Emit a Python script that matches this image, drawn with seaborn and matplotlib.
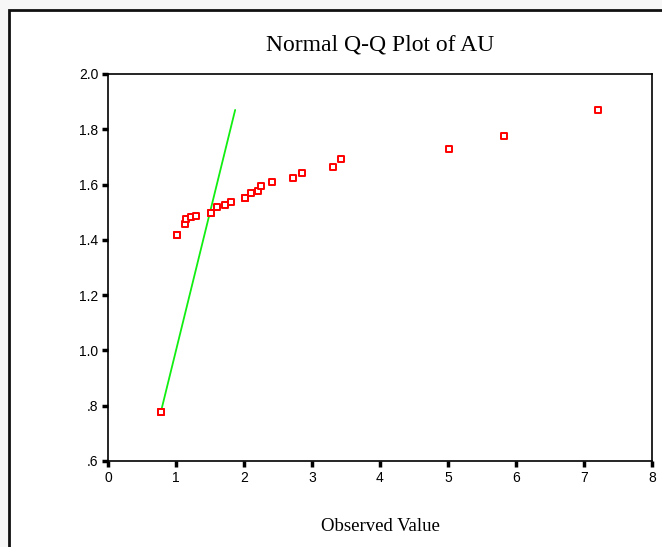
import matplotlib
matplotlib.use("Agg")
import matplotlib.pyplot as plt
import seaborn as sns
import pandas as pd
from matplotlib.patches import Rectangle

# ---- data ----
observed = [0.78, 0.78, 1.02, 1.02, 1.13, 1.15, 1.22, 1.29, 1.51, 1.51, 1.61, 1.72,
            1.81, 2.02, 2.02, 2.11, 2.21, 2.25, 2.41, 2.72, 2.86, 3.31, 3.42,
            5.01, 5.82, 7.21]
expected = [0.777, 0.777, 1.418, 1.418, 1.456, 1.474, 1.482, 1.487, 1.496, 1.496, 1.518, 1.527,
            1.537, 1.553, 1.553, 1.568, 1.578, 1.594, 1.608, 1.623, 1.643, 1.664, 1.694,
            1.729, 1.775, 1.870]
line_x = [0.777, 1.870]
line_y = [0.777, 1.870]
x_ticks = [0, 1, 2, 3, 4, 5, 6, 7, 8]
y_ticks = [0.6, 0.8, 1.0, 1.2, 1.4, 1.6, 1.8, 2.0]
y_ticklabels = [".6", ".8", "1.0", "1.2", "1.4", "1.6", "1.8", "2.0"]
title = "Normal Q-Q Plot of AU"
xlabel = "Observed Value"

df = pd.DataFrame({"observed": observed, "expected": expected})
dline = pd.DataFrame({"x": line_x, "y": line_y})

sns.set_style("white")
W, H = 662, 547
fig = plt.figure(figsize=(W / 100, H / 100), dpi=100)
fig.patch.set_facecolor("#f7f7f7")

# outer frame (white panel with dark border)
frame = Rectangle((9 / W, -0.05), 1.1, 1.05 - 10 / H, transform=fig.transFigure,
                  facecolor="white", edgecolor="#111111", linewidth=2.0, zorder=-5)
fig.add_artist(frame)

ax = fig.add_axes([108 / W, 1 - 461 / H, (652 - 108) / W, (461 - 74) / H])
ax.set_zorder(1)
ax.set_facecolor("white")

sns.lineplot(data=dline, x="x", y="y", ax=ax, color="#11ee11", linewidth=1.3, zorder=2)
sns.scatterplot(data=df, x="observed", y="expected", ax=ax, marker="s", s=20,
                facecolor="white", edgecolor="#ff0000", linewidth=1.4, zorder=3)

ax.set_xlim(0, 8)
ax.set_ylim(0.6, 2.0)
ax.set_xticks(x_ticks)
ax.set_xticklabels([str(t) for t in x_ticks])
ax.set_yticks(y_ticks)
ax.set_yticklabels(y_ticklabels)

for sp in ax.spines.values():
    sp.set_color("black")
    sp.set_linewidth(1.2)

ax.tick_params(axis="both", which="major", direction="out", length=4, width=2.5,
               color="black", labelsize=10, labelcolor="black", pad=3,
               bottom=True, left=True, top=False, right=False)
for lab in ax.get_xticklabels() + ax.get_yticklabels():
    lab.set_fontfamily("Liberation Sans")

ax.set_xlabel(xlabel, fontfamily="Liberation Serif", fontsize=13.5, labelpad=24, color="black")
ax.set_ylabel("")
ax.set_title(title, fontfamily="Liberation Serif", fontsize=17, pad=17, color="black")

fig.savefig("out.png", dpi=100, facecolor=fig.get_facecolor())
